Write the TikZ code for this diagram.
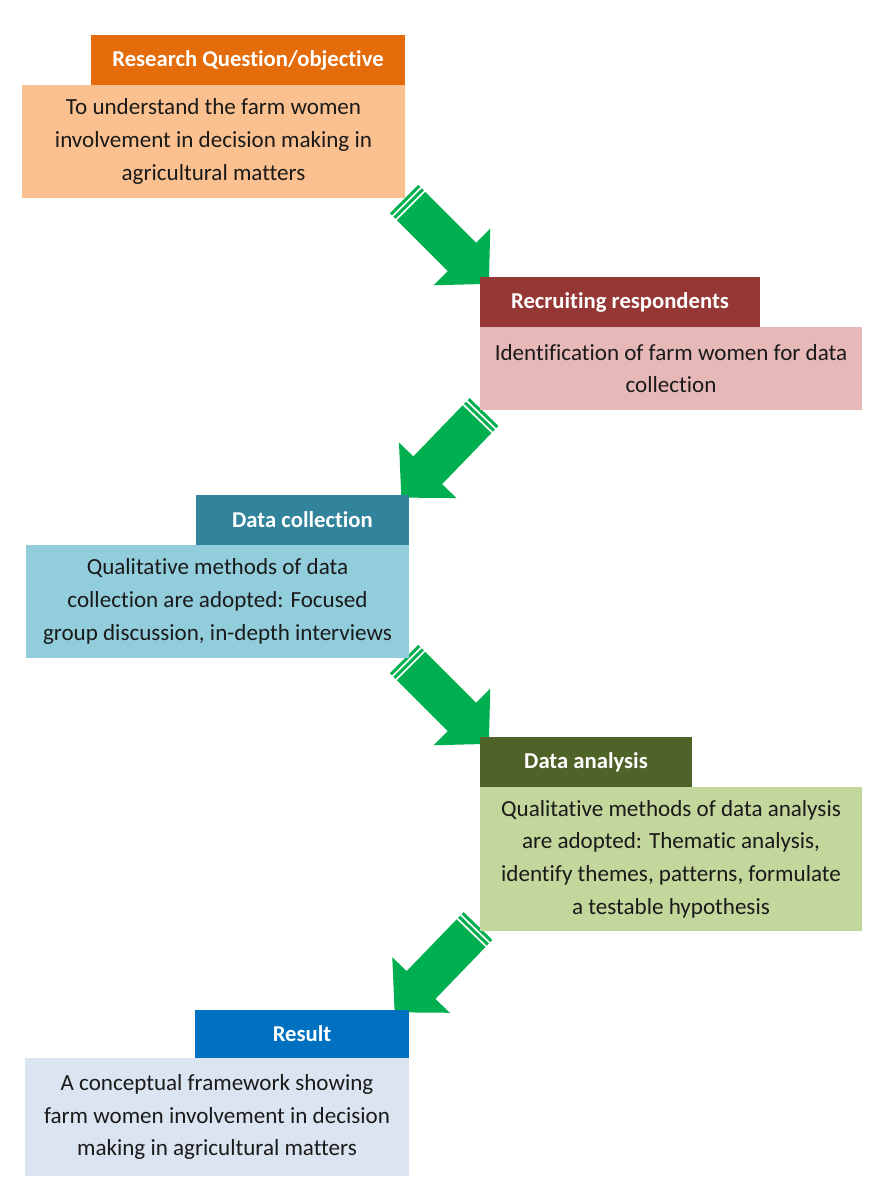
\documentclass[tikz,border=0pt]{standalone}
\usepackage{fontspec}
\setmainfont{Carlito}[Ligatures={NoCommon,NoRare,NoContextual}, Contextuals=NoAlternate]
\definecolor{hOrange}{HTML}{E46C0A}
\definecolor{bOrange}{HTML}{FAC08F}
\definecolor{hRed}{HTML}{953735}
\definecolor{bRed}{HTML}{E6B9B8}
\definecolor{hTeal}{HTML}{31849B}
\definecolor{bTeal}{HTML}{92CDDC}
\definecolor{hOlive}{HTML}{4F6228}
\definecolor{bOlive}{HTML}{C3D69B}
\definecolor{hBlue}{HTML}{0070C0}
\definecolor{bBlue}{HTML}{DBE5F1}
\definecolor{arrowGreen}{HTML}{00B050}
\definecolor{txt}{HTML}{1A1A1A}
\tikzset{
  header/.style={inner sep=0pt, text=white, font=\fontsize{17}{24.5}\selectfont\bfseries, align=center},
  body/.style={inner sep=0pt, text=txt, font=\fontsize{17.3}{24.5}\selectfont, align=center},
  greenpart/.style={fill=arrowGreen, draw=none},
}
% striped block arrow, drawn in a rotated scope: tail centre at origin, length #1 (px)
\newcommand\stripedarrow[1]{%
  \fill[greenpart] (0,-20) rectangle (3,20);
  \fill[greenpart] (5,-20) rectangle (8,20);
  \fill[greenpart] (10,-20) -- ({#1-38},-20) -- ({#1-38},-40) -- (#1,0) -- ({#1-38},40) -- ({#1-38},20) -- (10,20) -- cycle;
}
\begin{document}
\begin{tikzpicture}[x=0.75pt,y=-0.75pt]
\useasboundingbox[fill=white] (0,0) rectangle (884,1203);

% arrow end points
\coordinate (t1) at (404,199); \coordinate (p1) at (489,284);
\coordinate (t2) at (484,412); \coordinate (p2) at (401,497);
\coordinate (t3) at (404,659); \coordinate (p3) at (489,744);
\coordinate (t4) at (478,926); \coordinate (p4) at (394,1012);

\begin{scope}[shift={(t1)},rotate=-45]\stripedarrow{120}\end{scope}
\begin{scope}[shift={(t2)},rotate=-134]\stripedarrow{119}\end{scope}
\begin{scope}[shift={(t3)},rotate=-45]\stripedarrow{120}\end{scope}
\begin{scope}[shift={(t4)},rotate=-134]\stripedarrow{120}\end{scope}

% box 1
\node[body, fill=bOrange, minimum width=287.25pt, minimum height=84.75pt] (b1) at (213.5,141.5)
  {To understand the farm women\\involvement in decision making in\\agricultural matters};
\node[header, fill=hOrange, minimum width=235.5pt, minimum height=37.5pt] (h1) at (248,60)
  {Research Question/objective};

% box 2
\node[body, fill=bRed, minimum width=286.5pt, minimum height=62.25pt] (b2) at (671,368.5)
  {Identification of farm women for data\\collection};
\node[header, fill=hRed, minimum width=210pt, minimum height=37.5pt] (h2) at (620,302)
  {Recruiting respondents};

% box 3
\node[body, fill=bTeal, minimum width=287.25pt, minimum height=84.75pt] (b3) at (217.5,601.5)
  {Qualitative methods of data\\collection are adopted: Focused\\group discussion, in-depth interviews};
\node[header, fill=hTeal, minimum width=159.75pt, minimum height=37.5pt] (h3) at (302.5,520)
  {Data collection};

% box 4
\node[body, fill=bOlive, minimum width=286.5pt, minimum height=108pt] (b4) at (671,859)
  {Qualitative methods of data analysis\\are adopted: Thematic analysis,\\identify themes, patterns, formulate\\a testable hypothesis};
\node[header, fill=hOlive, minimum width=159pt, minimum height=37.5pt] (h4) at (586,762)
  {Data analysis};

% box 5
\node[body, fill=bBlue, minimum width=288pt, minimum height=88.5pt] (b5) at (217,1117)
  {A conceptual framework showing\\farm women involvement in decision\\making in agricultural matters};
\node[header, fill=hBlue, minimum width=160.5pt, minimum height=36pt] (h5) at (302,1034)
  {Result};
\end{tikzpicture}
\end{document}
